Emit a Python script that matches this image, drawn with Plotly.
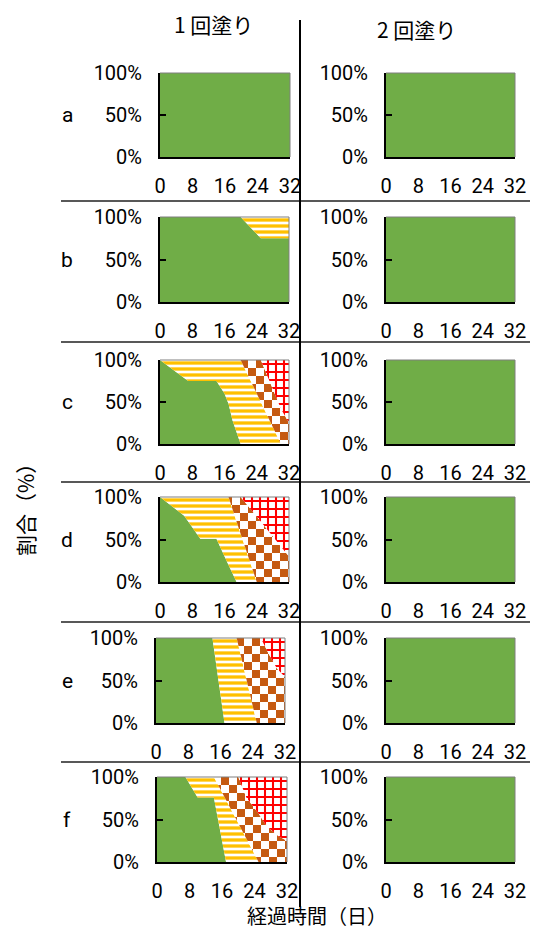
import plotly.graph_objects as go

# ---------------- data ----------------
day_ticks = [0, 8, 16, 24, 32]
pct_ticks = [0, 50, 100]
pct_labels = ["0%", "50%", "100%"]
row_labels = ["a", "b", "c", "d", "e", "f"]
col_titles = ["1 回塗り", "2 回塗り"]
x_title = "経過時間（日）"
y_title = "割合（%）"

# 1回塗り (left column)
days_a = [0, 32]
green_a = [100, 100]
yellow_a = [0, 0]
checker_a = [0, 0]
red_a = [0, 0]

days_b = [0, 20, 25, 32]
green_b = [100, 100, 75, 75]
yellow_b = [0, 0, 25, 25]
checker_b = [0, 0, 0, 0]
red_b = [0, 0, 0, 0]

days_c = [0, 7, 14, 16, 17, 18, 20, 25, 30, 32]
green_c = [100, 75, 75, 60, 48, 28, 0, 0, 0, 0]
yellow_c = [0, 25, 25, 40, 52, 72, 100, 50, 0, 0]
checker_c = [0, 0, 0, 0, 0, 0, 0, 50, 42, 25]
red_c = [0, 0, 0, 0, 0, 0, 0, 0, 58, 75]

days_d = [0, 6, 10, 14, 17, 19, 20, 24, 26, 30, 32]
green_d = [100, 78, 51, 51, 20, 0, 0, 0, 0, 0, 0]
yellow_d = [0, 22, 49, 49, 80, 71, 57, 0, 0, 0, 0]
checker_d = [0, 0, 0, 0, 0, 29, 43, 77, 65, 42, 30]
red_d = [0, 0, 0, 0, 0, 0, 0, 23, 35, 58, 70]

days_e = [0, 14, 17, 20, 25, 26, 28, 30, 32]
green_e = [100, 100, 0, 0, 0, 0, 0, 0, 0]
yellow_e = [0, 0, 100, 100, 0, 0, 0, 0, 0]
checker_e = [0, 0, 0, 0, 100, 100, 81, 64, 54]
red_e = [0, 0, 0, 0, 0, 0, 19, 36, 46]

days_f = [0, 7, 10, 14, 17, 20, 22, 25, 27, 30, 32]
green_f = [100, 100, 76, 76, 0, 0, 0, 0, 0, 0, 0]
yellow_f = [0, 0, 24, 24, 73, 45, 27, 0, 0, 0, 0]
checker_f = [0, 0, 0, 0, 27, 55, 49, 57, 42, 30, 25]
red_f = [0, 0, 0, 0, 0, 0, 24, 43, 58, 70, 75]

# 2回塗り (right column) - all rows stay 100 %
days_2 = [0, 32]
green_2 = [100, 100]
yellow_2 = [0, 0]
checker_2 = [0, 0]
red_2 = [0, 0]

left_data = [
    (days_a, green_a, yellow_a, checker_a, red_a),
    (days_b, green_b, yellow_b, checker_b, red_b),
    (days_c, green_c, yellow_c, checker_c, red_c),
    (days_d, green_d, yellow_d, checker_d, red_d),
    (days_e, green_e, yellow_e, checker_e, red_e),
    (days_f, green_f, yellow_f, checker_f, red_f),
]
right_data = [(days_2, green_2, yellow_2, checker_2, red_2)] * 6

# ---------------- layout geometry (pixels) ----------------
W, H = 534, 933
left_x = [(160, 290), (160, 289), (160, 289), (160, 289), (156, 285), (157, 287)]
right_x = [(386, 515)] * 6
row_y = [(73, 157), (217, 302), (360, 444), (497, 582), (638, 723), (777, 862)]
sep_y = [201, 342, 482, 622, 762]

GREEN = "#70AD47"
YELLOW = "#FFC000"
BROWN = "#C55A11"
RED = "#FF0000"

NUM_FONT = "Roboto, Liberation Sans, sans-serif"
JP_FONT = "Noto Sans CJK JP, sans-serif"

fig = go.Figure()
layout = {}
shapes = []
annotations = []

series_styles = [
    ("green", dict(fillcolor=GREEN)),
    ("yellow", dict(fillpattern=dict(shape="-", fgcolor=YELLOW, bgcolor="white", size=6, solidity=0.55, fillmode="replace"))),
    ("checker", dict(fillpattern=dict(shape=".", fgcolor=BROWN, bgcolor="white", size=10, solidity=0.5, fillmode="replace"))),
    ("red", dict(fillpattern=dict(shape="+", fgcolor=RED, bgcolor="white", size=8, solidity=0.45, fillmode="replace"))),
]

k = 0
for r in range(6):
    for c in range(2):
        k += 1
        data = left_data[r] if c == 0 else right_data[r]
        xs = left_x[r] if c == 0 else right_x[r]
        ys = row_y[r]
        xa = "x" if k == 1 else f"x{k}"
        ya = "y" if k == 1 else f"y{k}"
        days = data[0]
        for (name, style), vals in zip(series_styles, data[1:]):
            fig.add_trace(go.Scatter(
                x=days, y=vals, xaxis=xa, yaxis=ya, mode="lines",
                line=dict(width=0), stackgroup=f"s{k}", name=name,
                showlegend=False, hoverinfo="skip", **style))
        xkey = "xaxis" if k == 1 else f"xaxis{k}"
        ykey = "yaxis" if k == 1 else f"yaxis{k}"
        layout[xkey] = dict(
            domain=[xs[0] / W, xs[1] / W], anchor=ya, range=[0, 32], automargin=False,
            tickmode="array", tickvals=day_ticks, ticks="",
            showline=True, linecolor="black", linewidth=2, showgrid=False, zeroline=False,
            tickfont=dict(family=NUM_FONT, size=20, color="black"), ticklabelstandoff=10,
        )
        layout[ykey] = dict(
            domain=[1 - ys[1] / H, 1 - ys[0] / H], anchor=xa, range=[0, 100], automargin=False,
            tickmode="array", tickvals=pct_ticks, ticktext=pct_labels,
            ticks="inside", ticklen=6, tickwidth=2, tickcolor="black",
            showline=True, linecolor="black", linewidth=2, showgrid=False, zeroline=False,
            tickfont=dict(family=NUM_FONT, size=20, color="black"), ticklabelstandoff=12,
        )
        # thin top / right border of plot area
        shapes.append(dict(type="line", xref=f"{xa} domain", yref=f"{ya} domain",
                           x0=0, x1=1, y0=1, y1=1, line=dict(color="#7f7f7f", width=1), layer="above"))
        shapes.append(dict(type="line", xref=f"{xa} domain", yref=f"{ya} domain",
                           x0=1, x1=1, y0=0, y1=1, line=dict(color="#7f7f7f", width=1), layer="above"))
    # row label
    annotations.append(dict(text=row_labels[r], x=67 / W, y=1 - (sum(row_y[r]) / 2) / H,
                            xref="paper", yref="paper", showarrow=False,
                            font=dict(family=NUM_FONT, size=21, color="black"),
                            xanchor="center", yanchor="middle"))

# separators
for sy in sep_y:
    shapes.append(dict(type="line", xref="paper", yref="paper", x0=61 / W, x1=530 / W,
                       y0=1 - sy / H, y1=1 - sy / H, line=dict(color="#202020", width=1.5)))
shapes.append(dict(type="line", xref="paper", yref="paper", x0=300 / W, x1=300 / W,
                   y0=1 - 20 / H, y1=1 - 907 / H, line=dict(color="black", width=2)))

# titles
annotations.append(dict(text=col_titles[0], x=213 / W, y=1 - 24 / H, xref="paper", yref="paper",
                        showarrow=False, font=dict(family=JP_FONT, size=21, color="black"),
                        xanchor="center", yanchor="middle"))
annotations.append(dict(text=col_titles[1], x=416 / W, y=1 - 29 / H, xref="paper", yref="paper",
                        showarrow=False, font=dict(family=JP_FONT, size=21, color="black"),
                        xanchor="center", yanchor="middle"))
annotations.append(dict(text=x_title, x=317 / W, y=1 - 915 / H, xref="paper", yref="paper",
                        showarrow=False, font=dict(family=JP_FONT, size=20, color="black"),
                        xanchor="center", yanchor="middle"))
annotations.append(dict(text=y_title, x=25 / W, y=1 - 505 / H, xref="paper", yref="paper",
                        showarrow=False, textangle=-90, font=dict(family=JP_FONT, size=21, color="black"),
                        xanchor="center", yanchor="middle"))

fig.update_layout(
    width=W, height=H, margin=dict(l=0, r=0, t=0, b=0, autoexpand=False),
    paper_bgcolor="white", plot_bgcolor="white",
    shapes=shapes, annotations=annotations, showlegend=False,
    **layout,
)

post_js = """
document.body.style.margin = '0';
document.body.style.padding = '0';
document.documentElement.style.overflow = 'hidden';
var NS = 'http://www.w3.org/2000/svg';
document.querySelectorAll('pattern').forEach(function(p){
  var h = p.outerHTML.toLowerCase();
  if (h.indexOf('197, 90, 17') < 0 && h.indexOf('197,90,17') < 0 && h.indexOf('c55a11') < 0) return;
  var s = 16, q = 8;
  p.setAttribute('width', s); p.setAttribute('height', s);
  while (p.firstChild) p.removeChild(p.firstChild);
  var bg = document.createElementNS(NS, 'rect');
  bg.setAttribute('width', s); bg.setAttribute('height', s); bg.setAttribute('fill', '#ffffff');
  p.appendChild(bg);
  [[0, 0], [q, q]].forEach(function(o){
    var rc = document.createElementNS(NS, 'rect');
    rc.setAttribute('x', o[0]); rc.setAttribute('y', o[1]);
    rc.setAttribute('width', q); rc.setAttribute('height', q);
    rc.setAttribute('fill', '#C55A11');
    p.appendChild(rc);
  });
});
"""

fig.write_html("out.html", post_script=post_js, config={"staticPlot": True})
